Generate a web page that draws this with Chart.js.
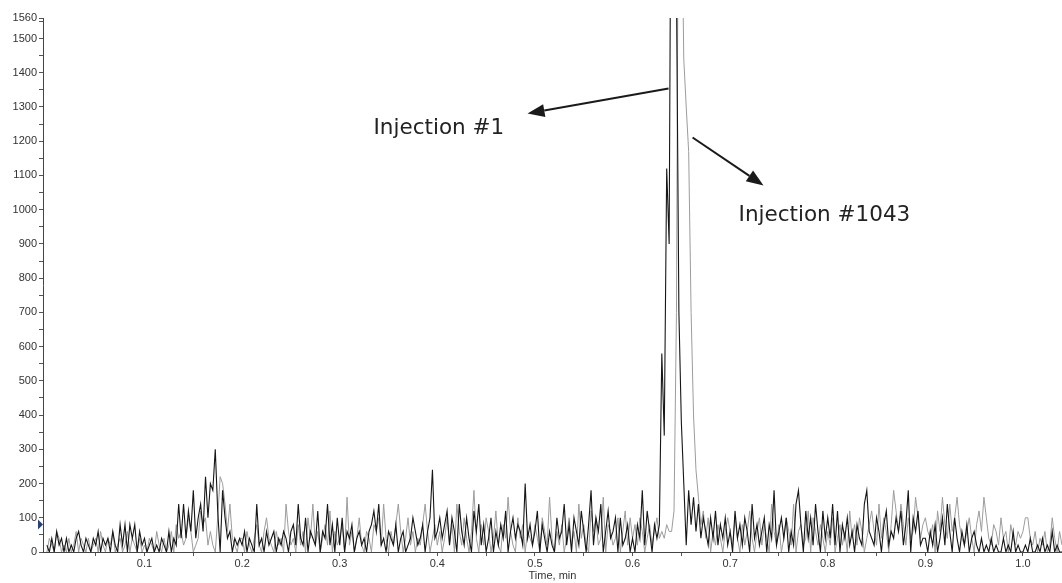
<!DOCTYPE html>
<html>
<head>
<meta charset="utf-8">
<script src="https://cdn.jsdelivr.net/npm/chart.js@4/dist/chart.umd.min.js"></script>
<style>
  html, body { margin: 0; padding: 0; background: #fff; }
  #wrap { width: 1062px; height: 583px; }
</style>
</head>
<body>
<div id="wrap"><canvas id="chart" width="1062" height="583"></canvas></div>
<script>
// sampling: one point every 0.0025 min, each block covers 0.1 min
const STEP = 0.0025;
const BLOCK = 0.1;

// Injection #1 (black trace), counts per block
const black00 = [20,0,40,0,60,20,40,0,40,0,20,0,40,60,20,0,40,20,0,40,20,60,0,40,20,40,0,60,20,0,80,20,80,0,80,40,80,0,60,20];
const black01 = [40,0,20,40,0,20,0,40,20,0,60,0,40,20,140,40,140,40,120,60,180,40,100,140,60,220,100,200,180,300,120,0,180,100,40,60,0,40,20,40];
const black02 = [20,60,0,40,20,0,140,20,40,0,60,20,40,60,0,40,20,60,40,0,60,80,20,140,40,20,100,0,60,40,20,120,0,60,40,140,20,80,0,100];
const black03 = [20,100,0,60,40,80,0,40,60,20,40,0,60,80,120,60,140,20,40,0,60,40,20,80,0,40,60,0,20,40,100,60,20,40,80,0,60,100,240,40];
const black04 = [60,100,40,80,120,20,100,60,0,140,60,20,100,40,0,120,60,140,20,80,0,40,100,0,60,20,80,40,120,0,60,100,40,80,60,20,200,40,80,20];
const black05 = [60,120,0,80,40,0,60,20,0,100,40,60,140,20,80,0,100,60,20,120,60,0,80,180,20,100,60,140,0,60,120,40,60,100,0,100,20,40,80,0];
const black06 = [40,0,80,40,180,20,120,60,0,80,40,80,580,340,1120,900,2400,3000,1650,700,380,200,20,180,80,160,60,140,40,100,60,20,100,40,120,20,80,40,100,20];
const black07 = [60,0,120,40,80,20,100,60,0,140,40,80,20,60,100,0,80,40,180,20,60,100,40,100,0,60,20,140,180,80,0,120,40,100,20,140,60,0,120,40];
const black08 = [100,40,140,20,120,0,80,40,100,20,60,0,80,40,20,140,180,60,40,20,100,60,0,80,120,20,60,40,100,60,120,20,80,180,0,100,60,120,20,40];
const black09 = [40,0,60,20,80,0,40,100,20,140,60,0,100,40,0,60,20,80,0,40,60,20,0,40,0,20,0,40,0,20,0,0,40,0,20,0,60,0,20,0];
const black10 = [0,20,0,40,0,0,20,0,40,0,20,0,60,0,20,0,0];

// Injection #1043 (grey trace)
const grey00 = [0,40,20,0,60,40,0,20,0,40,0,20,60,0,40,20,0,40,0,20,40,0,60,20,0,40,20,60,0,20,40,0,20,60,0,40,20,0,40,0];
const grey01 = [20,0,40,20,0,60,20,0,40,0,20,60,0,80,40,60,20,40,100,60,0,20,40,120,80,100,20,60,20,0,100,220,200,140,60,140,40,20,0,40];
const grey02 = [40,0,60,20,0,40,80,20,0,60,100,40,20,0,60,20,40,0,140,60,20,40,0,80,20,60,0,100,40,140,20,60,0,40,80,20,120,0,60,20];
const grey03 = [40,80,0,160,20,60,0,40,100,20,0,60,40,0,80,60,100,20,140,40,0,60,20,80,140,60,0,40,100,20,60,0,40,20,80,140,60,0,40,80];
const grey04 = [20,60,0,40,100,20,80,0,140,60,20,100,40,0,60,180,40,0,80,20,100,60,0,40,120,20,0,80,40,160,60,20,0,100,40,80,0,60,40,20];
const grey05 = [80,40,0,100,60,20,160,40,0,60,20,80,0,40,100,20,60,0,140,40,80,20,0,120,60,100,20,40,160,0,80,60,20,40,100,0,60,120,20,100];
const grey06 = [40,80,20,100,60,0,40,80,20,60,100,40,60,40,80,60,60,120,700,2400,2000,1440,1300,1170,700,400,240,160,80,120,40,100,0,60,20,80,40,0,60,100];
const grey07 = [60,20,100,40,0,80,20,60,120,40,0,60,100,20,80,40,0,140,60,20,80,0,40,100,60,20,140,0,60,80,20,40,120,0,100,60,20,80,40,0];
const grey08 = [60,20,100,0,40,80,20,60,0,120,40,80,20,100,60,0,40,80,120,60,20,140,40,100,60,0,80,180,120,60,140,80,20,100,40,60,160,100,40,80];
const grey09 = [100,60,40,80,0,120,60,160,80,40,140,60,100,160,80,40,20,60,100,40,0,80,120,60,160,100,40,20,80,60,20,100,40,60,0,80,40,20,60,40];
const grey10 = [60,100,100,40,20,60,0,40,20,60,0,20,100,40,0,60,20];

const blackBlocks = [black00, black01, black02, black03, black04, black05, black06, black07, black08, black09, black10];
const greyBlocks = [grey00, grey01, grey02, grey03, grey04, grey05, grey06, grey07, grey08, grey09, grey10];

// axes
const xMin = -0.004, xMax = 1.040;
const yMin = 0, yMax = 1560;
const xMajor = [0.1, 0.2, 0.3, 0.4, 0.5, 0.6, 0.7, 0.8, 0.9, 1.0];
const xMinor = [0.05, 0.15, 0.25, 0.35, 0.45, 0.55, 0.65, 0.75, 0.85, 0.95];
const yMajor = [0, 100, 200, 300, 400, 500, 600, 700, 800, 900, 1000, 1100, 1200, 1300, 1400, 1500, 1560];
const yMinor = [50, 150, 250, 350, 450, 550, 650, 750, 850, 950, 1050, 1150, 1250, 1350, 1450, 1550];

// annotations: [label, x, y] and arrows [fromX, fromY, toX, toY] in data units
const labels = [['Injection #1', 0.3346, 1237], ['Injection #1043', 0.7086, 983]];
const arrows = [[0.6369, 1354, 0.4924, 1281], [0.6615, 1211, 0.7342, 1071]];
const markerLevel = 80;

function toPoints(blocks) {
  const pts = [];
  blocks.forEach((vals, b) => {
    vals.forEach((v, i) => {
      pts.push({ x: Math.round((b * BLOCK + i * STEP) * 10000) / 10000, y: v });
    });
  });
  return pts;
}

const annotate = {
  id: 'annotate',
  afterDatasetsDraw(chart) {
    const { ctx, scales: { x, y }, chartArea } = chart;
    ctx.save();
    ctx.fillStyle = '#1a1a1a';
    ctx.strokeStyle = '#1a1a1a';
    ctx.lineWidth = 2;
    arrows.forEach(([x0, y0, x1, y1]) => {
      const ax = x.getPixelForValue(x0), ay = y.getPixelForValue(y0);
      const bx = x.getPixelForValue(x1), by = y.getPixelForValue(y1);
      const ang = Math.atan2(by - ay, bx - ax);
      const len = 17, half = 6.5;
      const cx = bx - len * Math.cos(ang), cy = by - len * Math.sin(ang);
      ctx.beginPath();
      ctx.moveTo(ax, ay);
      ctx.lineTo(cx, cy);
      ctx.stroke();
      ctx.beginPath();
      ctx.moveTo(bx, by);
      ctx.lineTo(cx + half * Math.sin(ang), cy - half * Math.cos(ang));
      ctx.lineTo(cx - half * Math.sin(ang), cy + half * Math.cos(ang));
      ctx.closePath();
      ctx.fill();
    });
    ctx.font = '21.5px "DejaVu Sans", Verdana, sans-serif';
    ctx.textBaseline = 'middle';
    ctx.textAlign = 'left';
    ctx.fillStyle = '#222';
    labels.forEach(([t, lx, ly]) => {
      ctx.fillText(t, x.getPixelForValue(lx), y.getPixelForValue(ly));
    });
    // small baseline marker on the y axis
    const my = y.getPixelForValue(markerLevel);
    const mx = chartArea.left - 5;
    ctx.fillStyle = '#26407a';
    ctx.beginPath();
    ctx.moveTo(mx, my - 5);
    ctx.lineTo(mx + 5, my);
    ctx.lineTo(mx, my + 5);
    ctx.closePath();
    ctx.fill();
    ctx.restore();
  }
};

const tickFont = { family: '"Liberation Sans", Arial, sans-serif', size: 11 };

new Chart(document.getElementById('chart'), {
  type: 'line',
  data: {
    datasets: [
      {
        label: 'Injection #1',
        data: toPoints(blackBlocks),
        borderColor: '#161616',
        borderWidth: 1.1,
        pointRadius: 0,
        tension: 0,
      },
      {
        label: 'Injection #1043',
        data: toPoints(greyBlocks),
        borderColor: '#9c9c9c',
        borderWidth: 1,
        pointRadius: 0,
        tension: 0,
      },
    ],
  },
  options: {
    responsive: false,
    animation: false,
    devicePixelRatio: 1,
    layout: { padding: { top: 18, right: 0, left: 0, bottom: 0 } },
    plugins: { legend: { display: false }, tooltip: { enabled: false } },
    scales: {
      x: {
        type: 'linear',
        min: xMin,
        max: xMax,
        afterBuildTicks: (s) => {
          s.ticks = [...xMinor, ...xMajor].sort((a, b) => a - b).map((v) => ({ value: v }));
        },
        afterFit: (s) => { s.height = 31; },
        ticks: {
          autoSkip: false,
          maxRotation: 0,
          padding: 1,
          color: '#333',
          font: tickFont,
          callback: (v) => (xMajor.some((m) => Math.abs(m - v) < 1e-6) ? v.toFixed(1) : ''),
        },
        grid: { drawOnChartArea: false, tickLength: 4, color: '#555' },
        border: { display: true, color: '#444', width: 1 },
        title: { display: true, text: 'Time, min', color: '#333', font: tickFont, padding: { top: 0, bottom: 0 } },
      },
      y: {
        type: 'linear',
        min: yMin,
        max: yMax,
        afterBuildTicks: (s) => {
          s.ticks = [...yMinor, ...yMajor].sort((a, b) => a - b).map((v) => ({ value: v }));
        },
        afterFit: (s) => { s.width = 43; },
        ticks: {
          autoSkip: false,
          padding: 2,
          color: '#333',
          font: tickFont,
          callback: (v) => (yMajor.includes(v) ? String(v) : ''),
        },
        grid: { drawOnChartArea: false, tickLength: 4, color: '#555' },
        border: { display: true, color: '#444', width: 1 },
      },
    },
  },
  plugins: [annotate],
});
</script>
</body>
</html>
